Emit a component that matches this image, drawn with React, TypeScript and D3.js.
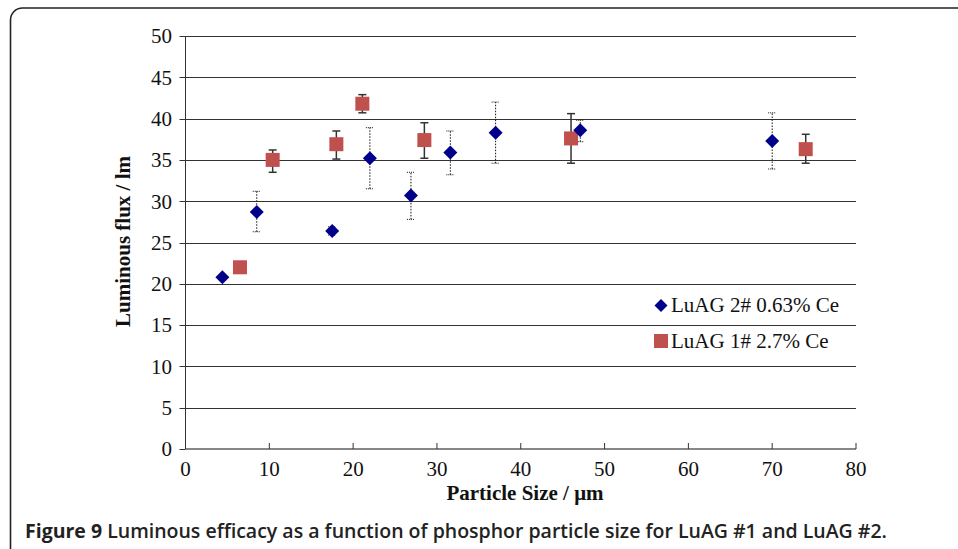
import React from "react";
import * as d3 from "d3";

const blueX = [4.4, 8.5, 17.5, 22.0, 26.9, 31.6, 37.0, 47.1, 70.0];
const blueY = [20.8, 28.7, 26.4, 35.2, 30.7, 35.9, 38.3, 38.6, 37.3];
const blueLo = [20.8, 26.3, 25.9, 31.5, 27.8, 33.2, 34.6, 37.2, 33.9];
const blueHi = [20.8, 31.2, 26.9, 38.9, 33.5, 38.5, 42.0, 39.8, 40.7];

const redX = [6.5, 10.4, 18.0, 21.1, 28.5, 46.0, 74.0];
const redY = [22.0, 35.0, 36.9, 41.8, 37.4, 37.6, 36.3];
const redLo = [22.0, 33.5, 35.1, 40.7, 35.2, 34.6, 34.6];
const redHi = [22.0, 36.2, 38.5, 42.9, 39.5, 40.6, 38.1];

const xTicks = [0, 10, 20, 30, 40, 50, 60, 70, 80];
const yTicks = [0, 5, 10, 15, 20, 25, 30, 35, 40, 45, 50];

const legendLabels = ["LuAG 2# 0.63% Ce", "LuAG 1# 2.7% Ce"];
const blueColor = "#00008B";
const redColor = "#C0504D";

function diamondPath(r: number) {
  return `M0,${-r}L${r},0L0,${r}L${-r},0Z`;
}

export default function App() {
  const W = 958, H = 549;
  const x = d3.scaleLinear().domain([0, 80]).range([185.5, 856]);
  const y = d3.scaleLinear().domain([0, 50]).range([449, 36]);
  const serif = "'Liberation Serif', 'Times New Roman', serif";
  const cap = 4;
  return (
    <svg width={W} height={H} style={{ position: "absolute", left: 0, top: 0, background: "#fff" }}>
      <rect x={10.5} y={8} width={1000} height={560} rx={12} ry={12} fill="none" stroke="#222" strokeWidth={1.6} />
      {/* gridlines */}
      {yTicks.filter(t => t > 0).map(t => (
        <line key={"g" + t} x1={x(0)} x2={x(80)} y1={Math.round(y(t)) + 0.5} y2={Math.round(y(t)) + 0.5} stroke="#333" strokeWidth={1} />
      ))}
      {/* axes */}
      <line x1={x(0)} x2={x(0)} y1={y(50)} y2={y(0)} stroke="#333" strokeWidth={1} />
      <line x1={x(0)} x2={x(80)} y1={y(0)} y2={y(0)} stroke="#111" strokeWidth={1.2} />
      {yTicks.map(t => (
        <g key={"y" + t}>
          <line x1={x(0) - 6} x2={x(0)} y1={Math.round(y(t)) + 0.5} y2={Math.round(y(t)) + 0.5} stroke="#333" />
          <text x={172} y={y(t)} dy="0.35em" textAnchor="end" fontFamily={serif} fontSize={21} fill="#111">{t}</text>
        </g>
      ))}
      {xTicks.map(t => (
        <g key={"x" + t}>
          <line x1={x(t)} x2={x(t)} y1={y(0) - 6} y2={y(0)} stroke="#333" />
          <text x={x(t)} y={469} dy="0.35em" textAnchor="middle" fontFamily={serif} fontSize={21} fill="#111">{t}</text>
        </g>
      ))}
      {/* error bars blue (dotted) */}
      {blueX.map((v, i) => blueHi[i] - blueLo[i] > 0.1 ? (
        <g key={"be" + i} stroke="#111" strokeWidth={1}>
          <line x1={x(v)} x2={x(v)} y1={y(blueLo[i])} y2={y(blueHi[i])} strokeDasharray="1.5,1.5" />
          <line x1={x(v) - cap} x2={x(v) + cap} y1={y(blueLo[i])} y2={y(blueLo[i])} strokeDasharray="1,1" />
          <line x1={x(v) - cap} x2={x(v) + cap} y1={y(blueHi[i])} y2={y(blueHi[i])} strokeDasharray="1,1" />
        </g>
      ) : null)}
      {/* error bars red (solid) */}
      {redX.map((v, i) => redHi[i] - redLo[i] > 0.1 ? (
        <g key={"re" + i} stroke="#333" strokeWidth={1.5}>
          <line x1={x(v)} x2={x(v)} y1={y(redLo[i])} y2={y(redHi[i])} />
          <line x1={x(v) - cap} x2={x(v) + cap} y1={y(redLo[i])} y2={y(redLo[i])} />
          <line x1={x(v) - cap} x2={x(v) + cap} y1={y(redHi[i])} y2={y(redHi[i])} />
        </g>
      ) : null)}
      {/* markers */}
      {redX.map((v, i) => (
        <rect key={"r" + i} x={x(v) - 7} y={y(redY[i]) - 7} width={14} height={14} fill={redColor} />
      ))}
      {blueX.map((v, i) => (
        <path key={"b" + i} d={diamondPath(7)} transform={`translate(${x(v)},${y(blueY[i])})`} fill={blueColor} />
      ))}
      {/* legend */}
      <path d={diamondPath(6.5)} transform="translate(661,305.5)" fill={blueColor} />
      <text x={671} y={305} dy="0.35em" fontFamily={serif} fontSize={21} fill="#111">{legendLabels[0]}</text>
      <rect x={654} y={334} width={14} height={14} fill={redColor} />
      <text x={671} y={341} dy="0.35em" fontFamily={serif} fontSize={21} fill="#111">{legendLabels[1]}</text>
      {/* axis titles */}
      <text transform={`translate(130,${y(25) - 1}) rotate(-90)`} textAnchor="middle" fontFamily={serif} fontWeight="bold" fontSize={21} fill="#111">Luminous flux / lm</text>
      <text x={525} y={500} textAnchor="middle" fontFamily={serif} fontWeight="bold" fontSize={21} fill="#111">Particle Size / μm</text>
      {/* caption */}
      <text x={25} y={538} fontFamily="'Open Sans', 'Noto Sans', sans-serif" fontSize={19.5} fill="#222">
        <tspan fontWeight="bold">Figure 9</tspan>
        <tspan fontWeight="600"> Luminous efficacy as a function of phosphor particle size for LuAG #1 and LuAG #2.</tspan>
      </text>
    </svg>
  );
}
